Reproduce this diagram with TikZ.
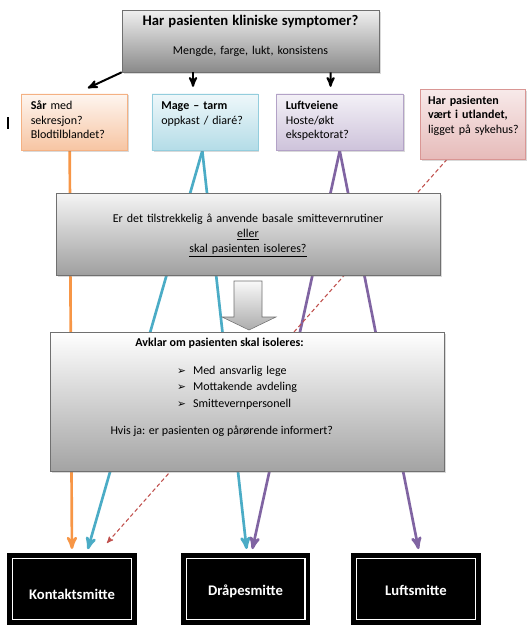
\documentclass[tikz,border=0pt]{standalone}
\usepackage{fontspec}
\setmainfont{Carlito}
\newfontfamily\symfont{DejaVu Sans}
\usepackage{tikz}
\usetikzlibrary{arrows}
\usetikzlibrary{positioning}
\usetikzlibrary{shadows}
\usetikzlibrary{backgrounds}

\definecolor{boxline}{HTML}{707070}
\definecolor{sarline}{HTML}{F4B183}
\definecolor{mageline}{HTML}{93CDDD}
\definecolor{luftline}{HTML}{B3A2C7}
\definecolor{utlline}{HTML}{D99694}
\definecolor{corange}{HTML}{F79646}
\definecolor{cblue}{HTML}{4BACC6}
\definecolor{cpurple}{HTML}{8064A2}
\definecolor{cred}{HTML}{C0504D}

\begin{document}
\begin{tikzpicture}[->,>=stealth',x=0.75pt,y=-0.75pt,
  grey box/.style={draw=boxline,inner sep=2pt,align=center,
    font=\fontsize{9}{11.1}\selectfont,
    drop shadow={shadow xshift=1.5pt,shadow yshift=-1.5pt,opacity=0.3}},
  sym box/.style={draw,anchor=north,align=left,inner xsep=7pt,inner ysep=3pt,
    text height=8.9pt,text depth=27.7pt,font=\fontsize{9}{10.9}\selectfont,
    drop shadow={shadow xshift=1.2pt,shadow yshift=-1.2pt,opacity=0.3}},
  smitte box/.style={draw=black,fill=black,line width=3.4pt,double=white,
    double distance=1.1pt,minimum width=88.9pt,minimum height=46.1pt,
    text height=9.6pt,text depth=0pt,text=white,
    font=\fontsize{11}{13}\selectfont\bfseries},
  txt/.style={inner sep=0pt,anchor=base west,font=\fontsize{9}{12.5}\selectfont},
  black arrow/.style={line width=1.5pt},
  main line/.style={line width=2pt,shorten >=5.3pt}]

  \useasboundingbox (0,0) rectangle (529,632);

  % question at the top
  \node[grey box,minimum width=192.75pt,minimum height=46.5pt,
    top color=gray!12,bottom color=gray!85!black!80,text width=185pt,
    text height=0.4pt,text depth=24.4pt,
    font=\fontsize{9}{22.4}\selectfont] (top) at (250.5,41)
    {{\fontsize{11}{13}\selectfont\bfseries Har pasienten kliniske symptomer?}\\
     Mengde, farge, lukt, konsistens};

  % symptoms
  \node[sym box,draw=sarline,top color=white!60!sarline!30,bottom color=sarline!75,
    text width=65.6pt] (sar) at (74.5,93.5)
    {\textbf{Sår} med\\ sekresjon?\\ Blodtilblandet?};
  \node[sym box,draw=mageline,top color=mageline!15,bottom color=mageline!70,
    text width=65.4pt] (mage) at (204.9,93.5)
    {\textbf{Mage -- tarm}\\ oppkast / diaré?};
  \node[sym box,draw=luftline,top color=luftline!15,bottom color=luftline!65,
    text width=80.9pt] (luft) at (339.75,93.5)
    {\textbf{Luftveiene}\\ Hoste/økt\\ ekspektorat?};
  \node[sym box,draw=utlline,top color=utlline!20,bottom color=utlline!65,
    inner xsep=6pt,text height=8.1pt,text depth=38.25pt,
    text width=67.1pt] (utl) at (472.75,89)
    {\textbf{Har pasienten}\\ \textbf{vært i utlandet,}\\ \mbox{ligget på sykehus?}};

  \draw[-,line width=1.5pt] (7.5,117) -- (7.5,129);

  \draw[black arrow] (top.south west) -- ([xshift=10pt,yshift=4.1pt]sar.north);
  \draw[black arrow] ([xshift=-43.1pt]top.south) -- ([xshift=-8.9pt,yshift=5pt]mage.north);
  \draw[black arrow] ([xshift=60.1pt]top.south) -- ([xshift=-6.9pt,yshift=5pt]luft.north);

  % isolation boxes
  \node[grey box,minimum width=288pt,minimum height=61.5pt,
    top color=gray!8,bottom color=gray!75,text width=280pt,
    text height=7.4pt,text depth=24.2pt] (sporsmal) at (248,234)
    {Er det tilstrekkelig å anvende basale smittevernrutiner\\
     \underline{eller}\\ \underline{skal pasienten isoleres?}};

  \draw[-,draw=boxline,top color=gray!5,bottom color=gray!65]
    (234,281) -- (262,281) -- (262,317) -- (276,317) -- (249,330)
    -- (222,317) -- (234,317) -- cycle;

  \node[grey box,minimum width=295.5pt,minimum height=104.5pt,
    top color=white,bottom color=gray!72] (avklar) at (247,401.7) {};
  \node[txt] (avk) at ([shift={(85.4,14.6)}]avklar.north west)
    {\textbf{Avklar om pasienten skal isoleres:}};
  \node[txt,text width=150pt,align=left] (liste) at ([shift={(127,42.5)}]avklar.north west)
    {\makebox[12pt][l]{\symfont\fontsize{8}{8}\selectfont ➢}Med ansvarlig lege\\
     \makebox[12pt][l]{\symfont\fontsize{8}{8}\selectfont ➢}Mottakende avdeling\\
     \makebox[12pt][l]{\symfont\fontsize{8}{8}\selectfont ➢}Smittevernpersonell};
  \node[txt] (hvis) at ([shift={(60.5,102.8)}]avklar.north west)
    {Hvis ja: er pasienten og pårørende informert?};

  % kinds of isolation
  \node[smitte box,text height=15.6pt] (kontakt) at (72,589) {Kontaktsmitte};
  \node[smitte box] (drape) at (245.5,589) {Dråpesmitte};
  \node[smitte box] (luftsm) at (416,589) {Luftsmitte};

  \begin{scope}[on background layer]
    \path ([xshift=-3.6pt]sar.south) edge [main line,draw=corange] (kontakt.north);
    \path ([xshift=-1.95pt]mage.south) edge [main line,draw=cblue] ([xshift=10.4pt]kontakt.north);
    \path ([xshift=-1.95pt]mage.south) edge [main line,draw=cblue] ([xshift=1.4pt]drape.north);
    \path (luft.south) edge [main line,draw=cpurple] ([xshift=4pt]drape.north);
    \path (luft.south) edge [main line,draw=cpurple] ([xshift=2.9pt]luftsm.north);
    \path ([xshift=-19.3pt]utl.south) edge [draw=cred,line width=0.8pt,
      dash pattern=on 3pt off 2pt,shorten >=13pt] ([xshift=17.6pt]kontakt.north);
  \end{scope}
\end{tikzpicture}
\end{document}
